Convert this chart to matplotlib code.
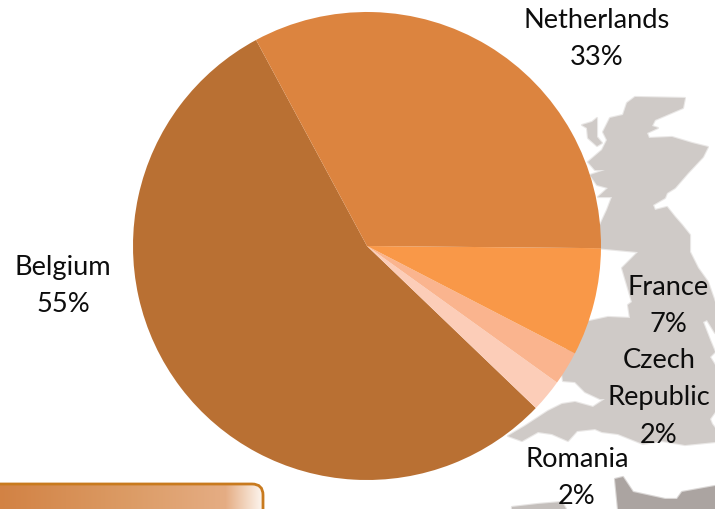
import numpy as np
import matplotlib
matplotlib.use("Agg")
import matplotlib.pyplot as plt
from matplotlib.patches import FancyBboxPatch, Polygon
from matplotlib.colors import LinearSegmentedColormap

plt.rcParams['font.family'] = ['Lato', 'DejaVu Sans']

countries = ["Belgium", "Romania", "Czech\nRepublic", "France", "Netherlands"]
shares = [54.97, 2.25, 2.33, 7.44, 33.01]
slice_colors = ["#b97033", "#fccdb8", "#fab48e", "#f99848", "#dc843f"]
label_centres = [(63, 286), (577, 478), (659, 398), (668, 306), (597, 39)]

W, H = 715, 509

# outlines of the backdrop map, in canvas pixels measured from the top left
great_britain = [(635, 97), (685, 98), (683, 108), (655, 120), (652, 126), (658, 128), (647, 133),
                 (649, 138), (672, 137), (692, 143), (708, 147), (703, 157), (688, 173), (675, 188),
                 (667, 193), (665, 198), (653, 205), (655, 210), (667, 207), (675, 217), (682, 225),
                 (690, 235), (690, 252), (698, 268), (708, 282), (715, 302), (715, 333), (707, 320),
                 (703, 322), (710, 340), (715, 352), (710, 357), (715, 365), (715, 412), (710, 419),
                 (712, 424), (715, 428), (715, 442), (685, 445), (662, 441), (643, 444), (618, 434),
                 (602, 432), (595, 429), (577, 431), (568, 441), (552, 434), (538, 432), (522, 441),
                 (508, 436), (525, 426), (548, 411), (562, 404), (575, 402), (593, 407), (605, 399),
                 (600, 399), (585, 392), (575, 382), (563, 381), (560, 360), (585, 322), (608, 317),
                 (630, 318), (628, 305), (632, 302), (622, 268), (638, 252), (595, 248), (600, 225),
                 (607, 210), (612, 197), (598, 197), (608, 188), (597, 185), (590, 175), (605, 170),
                 (595, 170), (588, 162), (602, 150), (607, 140), (603, 132), (610, 118), (623, 115),
                 (627, 103)]
skye = [(582, 125), (592, 122), (597, 118), (597, 137), (602, 143), (597, 146), (588, 138), (587, 128)]
mainland_east = [(615, 479), (623, 477), (633, 492), (665, 499), (677, 499), (682, 492), (715, 486),
                 (715, 509), (618, 509)]
mainland_west = [(512, 507), (538, 504), (562, 502), (566, 509), (512, 509)]


def px(points):
    return [(x, H - y) for x, y in points]


fig = plt.figure(figsize=(W / 100, H / 100), dpi=100)
ax = fig.add_axes([0, 0, 1, 1])

# a translucent stroke keeps the coastlines soft
for outline, shade in [(great_britain, "#cfcac7"), (skye, "#cfcac7"),
                       (mainland_east, "#aba4a1"), (mainland_west, "#c4bfbc")]:
    ax.add_patch(Polygon(px(outline), closed=True, facecolor=shade,
                         edgecolor=shade + "70", linewidth=1.6, joinstyle="round", zorder=1))

wedges, _ = ax.pie(shares, colors=slice_colors, startangle=118.3, counterclock=True,
                   center=(367, H - 246), radius=234, frame=True,
                   wedgeprops=dict(linewidth=0, zorder=2))

# rounded panel with a horizontal fade, running off the lower left corner
panel = FancyBboxPatch((-30, -40), 293, 65, boxstyle="round,pad=0,rounding_size=11",
                       facecolor="none", edgecolor="#c87a1e", linewidth=2, zorder=4)
ax.add_patch(panel)
fade = LinearSegmentedColormap.from_list(
    "fade", [(0, "#d28244"), (0.5, "#dc9c66"), (0.86, "#e5ad84"), (1, "#fdf6ef")])
img = ax.imshow(np.linspace(0, 1, 256)[None, :], cmap=fade, extent=(0, 263, -40, 25),
                aspect="auto", zorder=3)
img.set_clip_path(panel)

for name, share, (x, y) in zip(countries, shares, label_centres):
    ax.text(x, H - y, f"{name}\n{share:.0f}%", ha="center", va="center", fontsize=19.6,
            color="#0d0d0d", linespacing=1.64, zorder=5)

ax.set_xlim(0, W)
ax.set_ylim(0, H)
ax.set_aspect("auto")
ax.axis("off")
fig.savefig("out.png", dpi=100)
